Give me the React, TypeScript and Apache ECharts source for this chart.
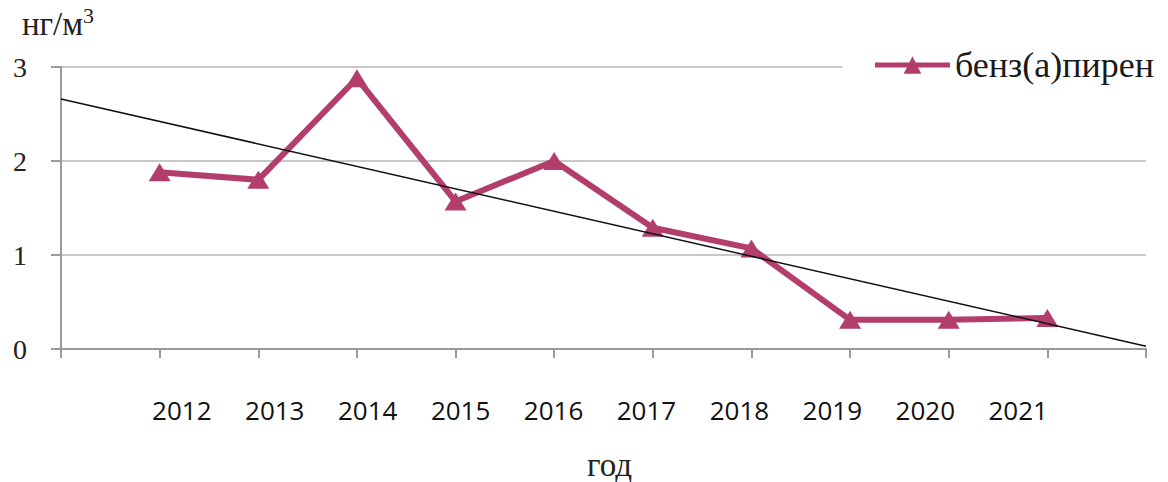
import React, { useEffect, useRef } from "react";
import * as echarts from "echarts";

const years = [2012, 2013, 2014, 2015, 2016, 2017, 2018, 2019, 2020, 2021];
const bapValues = [1.88, 1.8, 2.88, 1.57, 2.0, 1.29, 1.07, 0.31, 0.31, 0.33];
const trendYears = [2011, 2022];
const trendValues = [2.66, 0.03];
const yTicks = [0, 1, 2, 3];
// the tick labels under the axis are spaced a little tighter than the ticks
const labelAxisRange = [2010.7, 2022.375];
const seriesName = "бенз(а)пирен";
const xName = "год";

export default function App() {
  const ref = useRef<HTMLDivElement>(null);
  useEffect(() => {
    const chart = echarts.init(ref.current!, undefined, { renderer: "svg" });
    const serif = "'Liberation Serif', 'DejaVu Serif', serif";
    const sans = "'Open Sans', 'Noto Sans', sans-serif";
    const color = "#B33D6B";
    chart.setOption({
      animation: false,
      backgroundColor: "#ffffff",
      grid: {
        left: 61,
        right: 22,
        top: 67,
        bottom: 133,
        containLabel: false,
        outerBoundsMode: "none",
      },
      legend: {
        data: [seriesName],
        right: 0,
        top: 43,
        padding: [4, 14, 4, 30],
        backgroundColor: "#ffffff",
        itemWidth: 75,
        itemHeight: 22,
        itemGap: 4,
        lineStyle: { width: 5, color },
        itemStyle: { color },
        textStyle: { fontFamily: serif, fontSize: 36, color: "#1a1a1a" },
      },
      xAxis: [
        {
          type: "value",
          min: 2011,
          max: 2022,
          interval: 1,
          axisLine: { show: true, lineStyle: { color: "#9a9a9a", width: 2 } },
          axisTick: { show: true, length: 9, lineStyle: { color: "#9a9a9a", width: 2 } },
          splitLine: { show: false },
          axisLabel: { show: false },
        },
        {
          type: "value",
          position: "bottom",
          min: labelAxisRange[0],
          max: labelAxisRange[1],
          name: xName,
          nameLocation: "middle",
          nameGap: 103,
          nameTextStyle: {
            fontFamily: serif,
            fontSize: 33,
            lineHeight: 26,
            color: "#222",
            padding: [0, 0, 0, 12],
          },
          axisLine: { show: false },
          axisTick: { show: false },
          splitLine: { show: false },
          axisLabel: {
            show: true,
            customValues: years,
            margin: 48,
            fontFamily: sans,
            fontSize: 26,
            color: "#111",
            formatter: (v: number) => String(v),
          },
        },
      ],
      yAxis: {
        type: "value",
        min: yTicks[0],
        max: yTicks[yTicks.length - 1],
        interval: 1,
        name: "нг/м{sup|3}",
        nameLocation: "end",
        nameGap: 24,
        nameTextStyle: {
          fontFamily: serif,
          fontSize: 33,
          color: "#222",
          padding: [0, 6, 0, 0],
          rich: {
            sup: {
              fontFamily: serif,
              fontSize: 22,
              verticalAlign: "top",
              padding: [0, 0, 17, 0],
              color: "#222",
            },
          },
        },
        axisLine: { show: true, lineStyle: { color: "#9a9a9a", width: 2 } },
        axisTick: { show: true, length: 10, lineStyle: { color: "#9a9a9a", width: 2 } },
        splitLine: { show: true, lineStyle: { color: "#c8c8c8", width: 2 } },
        axisLabel: { margin: 34, fontFamily: serif, fontSize: 28, color: "#222" },
      },
      series: [
        {
          name: seriesName,
          type: "line",
          xAxisIndex: 0,
          data: years.map((y, i) => [y, bapValues[i]]),
          symbol: "triangle",
          symbolSize: [22, 18],
          lineStyle: { color, width: 6 },
          itemStyle: { color },
          z: 2,
        },
        {
          name: "trend",
          type: "line",
          xAxisIndex: 0,
          data: trendYears.map((y, i) => [y, trendValues[i]]),
          symbol: "none",
          lineStyle: { color: "#111", width: 1.5 },
          silent: true,
          z: 3,
        },
      ],
    });
    return () => chart.dispose();
  }, []);
  return (
    <div
      ref={ref}
      style={{ position: "fixed", left: 0, top: 0, width: 1168, height: 482 }}
    />
  );
}
